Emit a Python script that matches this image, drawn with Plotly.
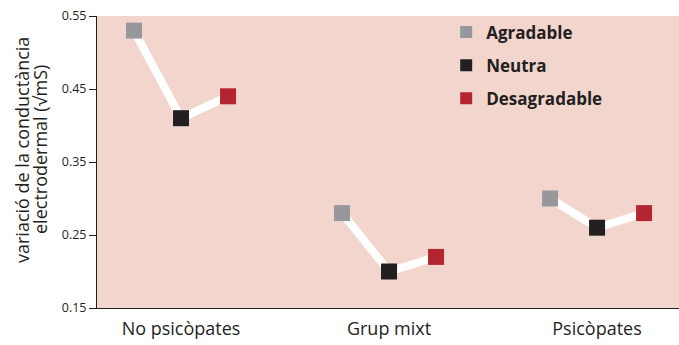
import plotly.graph_objects as go

groups = ["No psicòpates", "Grup mixt", "Psicòpates"]
conditions = ["Agradable", "Neutra", "Desagradable"]
values = {
    "Agradable":    [0.53, 0.28, 0.30],
    "Neutra":       [0.41, 0.20, 0.26],
    "Desagradable": [0.44, 0.22, 0.28],
}
colors = {"Agradable": "#96989b", "Neutra": "#231f20", "Desagradable": "#b5252f"}
offsets = {"Agradable": -0.226, "Neutra": 0.0, "Desagradable": 0.226}
yticks = [0.15, 0.25, 0.35, 0.45, 0.55]
ytitle_lines = ["variació de la conductància", "electrodermal (√mS)"]

fig = go.Figure()

# white connecting lines per group
for gi, g in enumerate(groups):
    xs = [gi + offsets[c] for c in conditions]
    ys = [values[c][gi] for c in conditions]
    fig.add_trace(go.Scatter(x=xs, y=ys, mode="lines",
                             line=dict(color="white", width=8),
                             showlegend=False, hoverinfo="skip"))

for c in conditions:
    fig.add_trace(go.Scatter(
        x=[i + offsets[c] for i in range(len(groups))], y=values[c],
        mode="markers", name=c, legendgroup=c,
        marker=dict(symbol="square", size=16, color=colors[c], line=dict(width=0)),
    ))

font = "Open Sans, sans-serif"
fig.update_layout(
    width=679, height=345,
    margin=dict(l=97, r=0, t=16, b=37),
    paper_bgcolor="white", plot_bgcolor="#f2d6ce",
    font=dict(family=font, color="#231f20"),
    legend=dict(x=0.6, y=1.005, xanchor="left", yanchor="top",
                bgcolor="rgba(0,0,0,0)", itemsizing="constant",
                tracegroupgap=8,
                font=dict(size=17, weight="bold", color="#231f20")),
    xaxis=dict(range=[-0.404, 2.394], tickvals=[0, 1, 2], ticktext=groups,
               showgrid=False, zeroline=False, showline=True, linecolor="#231f20",
               linewidth=1, ticks="", tickfont=dict(size=18), ticklabelstandoff=4),
    yaxis=dict(range=[0.15, 0.55], tickvals=yticks,
               ticktext=[f"{v:.2f}" for v in yticks],
               showgrid=False, zeroline=False, showline=True, linecolor="#231f20",
               linewidth=1, ticks="outside", ticklen=7, tickcolor="#231f20",
               tickfont=dict(size=12.5)),
)

for i, line in enumerate(ytitle_lines):
    fig.add_annotation(text=line, xref="paper", yref="paper", x=0, y=0.5,
                       xanchor="center", yanchor="middle", textangle=-90,
                       xshift=-75 + 18 * i, yshift=12, showarrow=False,
                       font=dict(size=18, color="#231f20"))

fig.write_html("out.html")
